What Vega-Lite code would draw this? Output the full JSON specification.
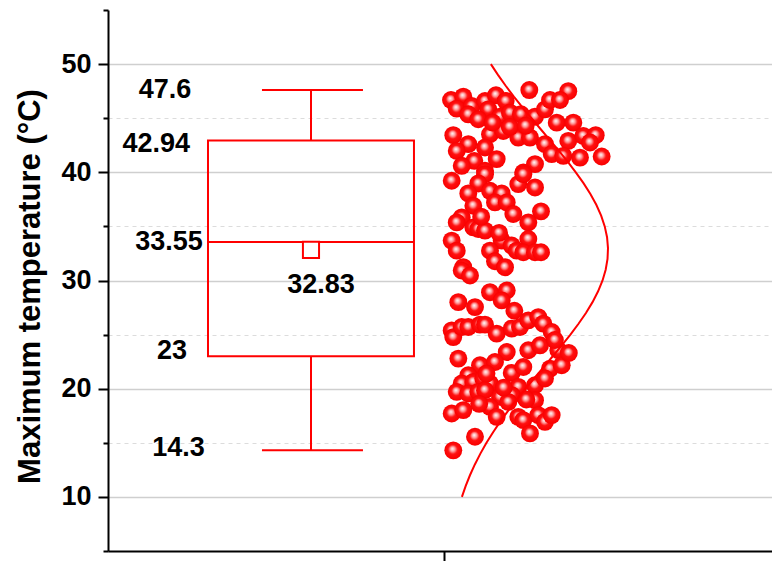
{
  "$schema": "https://vega.github.io/schema/vega-lite/v6.json",
  "width": 664,
  "height": 541,
  "autosize": {"type": "none"},
  "padding": {"left": 108, "top": 10, "right": 0, "bottom": 10},
  "background": "white",
  "config": {"view": {"stroke": null}, "font": "Liberation Sans"},
  "datasets": {
    "points": [
      {"x":63.45,"y":47.6},{"x":69.32,"y":47.5},{"x":51.66,"y":46.68},{"x":53.51,"y":46.99},{"x":52.52,"y":45.88},
      {"x":54.77,"y":46.13},{"x":56.78,"y":46.59},{"x":58.43,"y":47.12},{"x":59.89,"y":46.59},{"x":57.27,"y":45.82},
      {"x":54.26,"y":45.36},{"x":55.77,"y":44.9},{"x":59.04,"y":45.14},{"x":60.54,"y":45.51},{"x":62.2,"y":45.36},
      {"x":64.31,"y":45.14},{"x":65.81,"y":45.82},{"x":66.57,"y":46.68},{"x":68.07,"y":46.68},{"x":67.58,"y":44.59},
      {"x":70.08,"y":44.59},{"x":52.0,"y":43.43},{"x":57.53,"y":43.52},{"x":59.53,"y":43.82},{"x":61.79,"y":43.21},
      {"x":63.55,"y":43.21},{"x":65.81,"y":42.6},{"x":69.32,"y":42.9},{"x":71.58,"y":43.36},{"x":73.45,"y":43.43},
      {"x":72.59,"y":42.75},{"x":54.26,"y":42.6},{"x":52.52,"y":41.98},{"x":56.78,"y":42.29},{"x":66.82,"y":41.68},
      {"x":68.57,"y":41.52},{"x":71.08,"y":41.36},{"x":74.35,"y":41.46},{"x":55.17,"y":41.06},{"x":58.54,"y":41.22},
      {"x":53.27,"y":40.6},{"x":64.31,"y":40.76},{"x":62.55,"y":39.98},{"x":56.78,"y":40.14},{"x":51.76,"y":39.22},
      {"x":56.78,"y":39.83},{"x":55.77,"y":38.97},{"x":61.79,"y":38.91},{"x":62.55,"y":39.83},{"x":64.31,"y":38.6},
      {"x":54.26,"y":38.05},{"x":57.53,"y":38.29},{"x":59.29,"y":38.05},{"x":58.28,"y":37.22},{"x":60.05,"y":37.22},
      {"x":55.02,"y":36.91},{"x":61.04,"y":36.15},{"x":65.21,"y":36.39},{"x":53.27,"y":35.83},{"x":52.52,"y":35.37},
      {"x":63.3,"y":35.37},{"x":55.02,"y":34.91},{"x":55.77,"y":34.76},{"x":56.78,"y":34.61},{"x":51.76,"y":33.69},
      {"x":52.52,"y":32.76},{"x":59.29,"y":33.69},{"x":60.8,"y":33.23},{"x":63.3,"y":33.84},{"x":57.53,"y":32.76},
      {"x":61.55,"y":32.76},{"x":62.55,"y":32.61},{"x":64.31,"y":32.61},{"x":65.21,"y":32.61},{"x":58.28,"y":31.78},
      {"x":59.79,"y":31.23},{"x":53.51,"y":31.23},{"x":53.27,"y":30.92},{"x":54.52,"y":30.46},{"x":57.53,"y":28.92},
      {"x":60.05,"y":29.08},{"x":59.29,"y":28.16},{"x":52.76,"y":28.0},{"x":55.27,"y":27.54},{"x":51.76,"y":25.39},
      {"x":52.0,"y":24.77},{"x":53.27,"y":25.7},{"x":54.26,"y":25.7},{"x":56.02,"y":25.92},{"x":56.78,"y":25.92},
      {"x":58.54,"y":25.09},{"x":60.8,"y":25.55},{"x":62.05,"y":25.7},{"x":63.3,"y":26.31},{"x":64.8,"y":26.62},
      {"x":65.56,"y":26.01},{"x":66.82,"y":25.24},{"x":60.05,"y":23.39},{"x":63.3,"y":23.55},{"x":65.06,"y":24.01},
      {"x":67.82,"y":23.55},{"x":52.76,"y":22.78},{"x":56.02,"y":22.17},{"x":58.28,"y":22.47},{"x":60.8,"y":21.46},
      {"x":62.55,"y":22.01},{"x":66.57,"y":21.86},{"x":68.33,"y":22.17},{"x":54.26,"y":21.24},{"x":53.27,"y":20.48},
      {"x":55.02,"y":20.63},{"x":56.52,"y":20.94},{"x":57.53,"y":20.48},{"x":52.52,"y":19.71},{"x":54.26,"y":19.56},
      {"x":55.77,"y":19.71},{"x":56.78,"y":19.86},{"x":61.79,"y":20.17},{"x":64.31,"y":20.32},{"x":65.81,"y":20.94},
      {"x":59.04,"y":19.24},{"x":60.8,"y":19.4},{"x":60.29,"y":18.78},{"x":57.53,"y":18.32},{"x":64.31,"y":18.94},
      {"x":51.76,"y":17.71},{"x":53.51,"y":18.02},{"x":58.54,"y":17.4},{"x":61.79,"y":17.4},{"x":62.55,"y":17.1},
      {"x":64.8,"y":17.56},{"x":65.81,"y":16.94},{"x":66.82,"y":17.56},{"x":63.55,"y":15.87},{"x":55.27,"y":15.56},
      {"x":52.0,"y":14.3},
      {"x":60.5,"y":44.2},{"x":57.9,"y":44.6},{"x":62.9,"y":44.3},{"x":56.2,"y":35.9},{"x":58.9,"y":34.4},
      {"x":61.2,"y":27.2},{"x":57.0,"y":21.4},{"x":59.6,"y":20.1},{"x":63.0,"y":19.0},{"x":55.9,"y":18.6},
      {"x":67.3,"y":24.5},{"x":69.4,"y":23.3}
    ],
    "curve": [
      {"cy":10,"cx":53.3},{"cy":11,"cx":53.86},{"cy":12,"cx":54.51},{"cy":13,"cx":55.25},{"cy":14,"cx":56.08},
      {"cy":15,"cx":57.0},{"cy":16,"cx":58.02},{"cy":17,"cx":59.12},{"cy":18,"cx":60.3},{"cy":19,"cx":61.56},
      {"cy":20,"cx":62.87},{"cy":21,"cx":64.23},{"cy":22,"cx":65.61},{"cy":23,"cx":66.98},{"cy":24,"cx":68.34},
      {"cy":25,"cx":69.64},{"cy":26,"cx":70.86},{"cy":27,"cx":71.98},{"cy":28,"cx":72.97},{"cy":29,"cx":73.81},
      {"cy":30,"cx":74.48},{"cy":31,"cx":74.95},{"cy":32,"cx":75.23},{"cy":33,"cx":75.3},{"cy":34,"cx":75.16},
      {"cy":35,"cx":74.81},{"cy":36,"cx":74.27},{"cy":37,"cx":73.54},{"cy":38,"cx":72.65},{"cy":39,"cx":71.61},
      {"cy":40,"cx":70.45},{"cy":41,"cx":69.2},{"cy":42,"cx":67.88},{"cy":43,"cx":66.52},{"cy":44,"cx":65.14},
      {"cy":45,"cx":63.77},{"cy":46,"cx":62.42},{"cy":47,"cx":61.12},{"cy":48,"cx":59.89},{"cy":49,"cx":58.73},
      {"cy":50,"cx":57.66}
    ],
    "box": [
      {"xc":30.57,"bx1":15.06,"bx2":46.08,"cx1":23.19,"cx2":38.4,"low":14.3,"q1":23,"med":33.55,"q3":42.94,"high":47.6,"mean":32.83}
    ],
    "labels": [
      {"t":"47.6","lx":8.58,"ly":47.6},
      {"t":"42.94","lx":7.27,"ly":42.6},
      {"t":"33.55","lx":9.19,"ly":33.53},
      {"t":"23","lx":9.64,"ly":23.48},
      {"t":"14.3","lx":10.62,"ly":14.49},
      {"t":"32.83","lx":32.08,"ly":29.54}
    ]
  },
  "layer": [
    {
      "data": {"name": "box"},
      "mark": {"type": "rule", "color": "#ff0000", "strokeWidth": 2},
      "encoding": {
        "x": {"field": "xc", "type": "quantitative", "scale": {"domain": [0, 100], "nice": false, "zero": false},
          "axis": {"values": [50.6], "labels": false, "title": null, "grid": false, "tickSize": 10, "tickColor": "black", "tickWidth": 2, "domainColor": "black", "domainWidth": 2}},
        "y": {"field": "q3", "type": "quantitative", "scale": {"domain": [5, 55], "nice": false, "zero": false},
          "axis": {
            "title": "Maximum temperature (°C)",
            "values": [5, 10, 15, 20, 25, 30, 35, 40, 45, 50, 55],
            "labelExpr": "(datum.value % 10 === 0) ? datum.label : ''",
            "labelFont": "Liberation Sans", "labelFontSize": 27, "labelFontWeight": "bold", "labelColor": "black", "labelPadding": 7,
            "tickSize": {"condition": {"test": "datum.value % 10 === 0", "value": 10}, "value": 5},
            "tickColor": "black", "tickWidth": 2, "domainColor": "black", "domainWidth": 2,
            "grid": true,
            "gridColor": {"condition": {"test": "datum.value % 10 === 0", "value": "#cfcfcf"}, "value": "#dcdcdc"},
            "gridDash": {"condition": {"test": "datum.value % 10 === 0", "value": []}, "value": [4, 4]},
            "gridWidth": {"condition": {"test": "datum.value % 10 === 0", "value": 1.5}, "value": 1},
            "gridOpacity": {"condition": {"test": "datum.value === 5 || datum.value === 55", "value": 0}, "value": 1},
            "titleFont": "Liberation Sans", "titleFontSize": 31, "titleFontWeight": "bold", "titleColor": "black",
            "titleX": -78, "titleY": 276, "titleBaseline": "middle", "titleAngle": 270
          }},
        "y2": {"field": "high"}
      }
    },
    {
      "data": {"name": "box"},
      "mark": {"type": "rule", "color": "#ff0000", "strokeWidth": 2},
      "encoding": {
        "x": {"field": "xc", "type": "quantitative"},
        "y": {"field": "low", "type": "quantitative"},
        "y2": {"field": "q1"}
      }
    },
    {
      "data": {"name": "box"},
      "mark": {"type": "rule", "color": "#ff0000", "strokeWidth": 2},
      "encoding": {
        "x": {"field": "cx1", "type": "quantitative"},
        "x2": {"field": "cx2"},
        "y": {"field": "high", "type": "quantitative"}
      }
    },
    {
      "data": {"name": "box"},
      "mark": {"type": "rule", "color": "#ff0000", "strokeWidth": 2},
      "encoding": {
        "x": {"field": "cx1", "type": "quantitative"},
        "x2": {"field": "cx2"},
        "y": {"field": "low", "type": "quantitative"}
      }
    },
    {
      "data": {"name": "box"},
      "mark": {"type": "rect", "fill": "white", "fillOpacity": 0, "stroke": "#ff0000", "strokeWidth": 2},
      "encoding": {
        "x": {"field": "bx1", "type": "quantitative"},
        "x2": {"field": "bx2"},
        "y": {"field": "q1", "type": "quantitative"},
        "y2": {"field": "q3"}
      }
    },
    {
      "data": {"name": "box"},
      "mark": {"type": "rule", "color": "#ff0000", "strokeWidth": 2},
      "encoding": {
        "x": {"field": "bx1", "type": "quantitative"},
        "x2": {"field": "bx2"},
        "y": {"field": "med", "type": "quantitative"}
      }
    },
    {
      "data": {"name": "box"},
      "mark": {"type": "point", "shape": "square", "filled": true, "fill": "white", "stroke": "#ff0000", "strokeWidth": 2, "size": 260, "opacity": 1},
      "encoding": {
        "x": {"field": "xc", "type": "quantitative"},
        "y": {"field": "mean", "type": "quantitative"}
      }
    },
    {
      "data": {"name": "points"},
      "mark": {
        "type": "point", "shape": "circle", "filled": true, "size": 320, "opacity": 1, "strokeWidth": 0,
        "fill": {"gradient": "radial", "x1": 0.45, "y1": 0.4, "r1": 0, "x2": 0.5, "y2": 0.5, "r2": 0.5,
          "stops": [{"offset": 0, "color": "#ffffff"}, {"offset": 0.28, "color": "#ff9a9a"}, {"offset": 0.52, "color": "#ff1010"}, {"offset": 1, "color": "#f80000"}]}
      },
      "encoding": {
        "x": {"field": "x", "type": "quantitative"},
        "y": {"field": "y", "type": "quantitative"}
      }
    },
    {
      "data": {"name": "curve"},
      "mark": {"type": "line", "color": "#ff0000", "strokeWidth": 2},
      "encoding": {
        "x": {"field": "cx", "type": "quantitative"},
        "y": {"field": "cy", "type": "quantitative"},
        "order": {"field": "cy", "type": "quantitative"}
      }
    },
    {
      "data": {"name": "labels"},
      "mark": {"type": "text", "font": "Liberation Sans", "fontSize": 27, "fontWeight": "bold", "color": "black", "align": "center", "baseline": "middle"},
      "encoding": {
        "x": {"field": "lx", "type": "quantitative"},
        "y": {"field": "ly", "type": "quantitative"},
        "text": {"field": "t"}
      }
    }
  ]
}
